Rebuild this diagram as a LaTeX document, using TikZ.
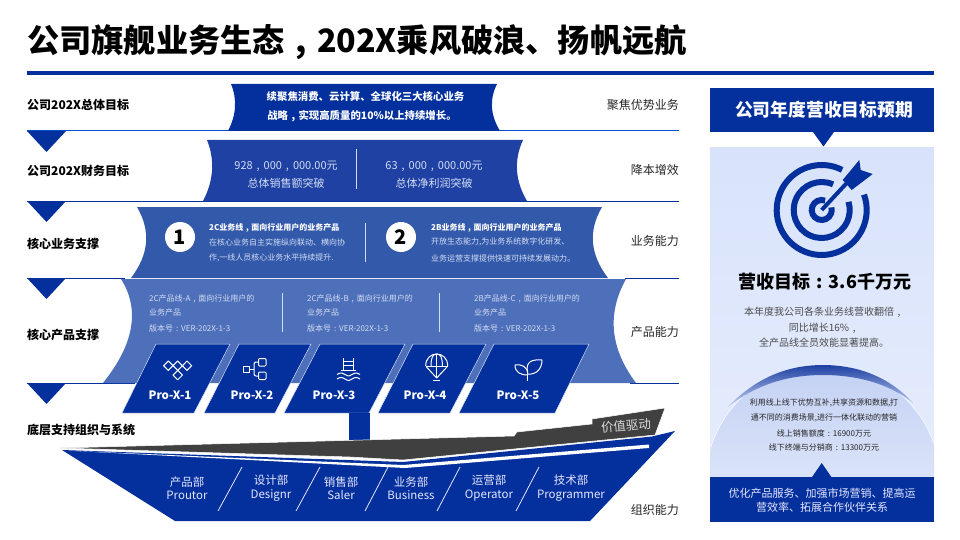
\documentclass[tikz,border=0pt]{standalone}
\usepackage{fontspec}
\setmainfont{Noto Sans CJK SC}
\usepackage{tikz}

\definecolor{deepblue}{HTML}{03309C}
\definecolor{bandtwo}{HTML}{1E41A3}
\definecolor{bandthree}{HTML}{3359AB}
\definecolor{bandfour}{HTML}{4E70BA}
\definecolor{palepanel}{HTML}{D8E3FB}
\definecolor{palelight}{HTML}{E6ECFC}
\definecolor{paletext}{HTML}{D3DDF3}
\definecolor{domeblue}{HTML}{C3D1F3}
\definecolor{domelow}{HTML}{F3F6FE}
\definecolor{wing}{HTML}{404040}

\newcommand{\wcomma}{\makebox[1em]{,}}
\newcommand{\wcolon}{\makebox[1em]{:}}

\tikzset{
  rowlabel/.style={anchor=west, font=\fontsize{12}{14}\selectfont\bfseries, text=black, inner sep=0pt},
  ability/.style={anchor=east, font=\fontsize{12}{14}\selectfont, text=black!85, inner sep=0pt},
  wtext/.style={font=\fontsize{#1}{#1}\selectfont, text=white, inner sep=0pt},
  ptext/.style={anchor=west, font=\fontsize{8}{10}\selectfont, text=paletext, inner sep=0pt},
  prodbox/.style={fill=deepblue, draw=paletext, line width=0.5pt},
  prodlabel/.style={font=\fontsize{11.5}{13}\selectfont\bfseries, text=white, inner sep=0pt},
  icon/.style={draw=white, line width=1pt, line join=round},
  divline/.style={draw=paletext, line width=1pt},
  hullline/.style={draw=white!90!blue, line width=0.8pt},
  rowline/.style={line width=1pt},
  darr/.style={fill=deepblue, draw=none},
  dept/.style={font=\fontsize{11.5}{13.5}\selectfont, text=white!90!blue, inner sep=0pt, align=center},
  dometext/.style={font=\fontsize{8}{10}\selectfont, text=black!85, inner sep=0pt}
}

\begin{document}
\begin{tikzpicture}[x=1pt, y=-1pt]
  \useasboundingbox (0,0) rectangle (960,540);

  \node[anchor=west, inner sep=0pt, font=\fontsize{32.2}{36}\selectfont\bfseries] (title) at (27,42) {公司旗舰业务生态\wcomma 202X乘风破浪、扬帆远航};
  \fill[deepblue] (27,71) rectangle (934,75);

  % Zeilen
  \draw[rowline, draw=blue!60!cyan!80!black] (27,131) -- (679,131);
  \draw[rowline, draw=deepblue] (27,201) -- (679,201);
  \draw[rowline, draw=deepblue] (27,278.5) -- (125,278.5);
  \draw[rowline, draw=deepblue] (625,278.5) -- (679,278.5);
  \draw[rowline, draw=deepblue] (27,383) -- (135,383);
  \draw[rowline, draw=deepblue] (630,383) -- (679,383);

  \fill[deepblue] (231,84) .. controls (237.3,99.3) and (236.3,115) .. (228,131) -- (500,131) .. controls (490.3,115) and (489.3,99.3) .. (497,84) -- cycle;
  \fill[bandtwo] (207,140) .. controls (215,160) and (213.7,180.7) .. (203,201) -- (527,201) .. controls (515,180.7) and (513.7,160) .. (523,140) -- cycle;
  \fill[bandthree] (137,207) .. controls (151,231) and (149,254.3) .. (131,278) -- (608,278) .. controls (590,254.3) and (588,231) .. (602,207) -- cycle;
  \fill[bandfour] (121,279) .. controls (140.3,309.7) and (134,344.3) .. (103,383) -- (636,383) .. controls (610,348.3) and (606.7,313.7) .. (626,279) -- cycle;

  \fill[darr] (27,131) -- (66,131) -- (46.5,152) -- cycle;
  \fill[darr] (27,201) -- (66,201) -- (46.5,222) -- cycle;
  \fill[darr] (27,278) -- (66,278) -- (46.5,299) -- cycle;
  \fill[darr] (27,383) -- (66,383) -- (46.5,404) -- cycle;

  \node[rowlabel] (goalall) at (27,105) {公司202X总体目标};
  \node[rowlabel] (goalfin) at (27,171) {公司202X财务目标};
  \node[rowlabel] (corebiz) at (27,244) {核心业务支撑};
  \node[rowlabel] (coreprod) at (27,335) {核心产品支撑};
  \node[rowlabel] (baseorg) at (27,430) {底层支持组织与系统};

  \node[ability] (abfocus) at (679,105) {聚焦优势业务};
  \node[ability] (abcost) at (679,170) {降本增效};
  \node[ability] (abbiz) at (679,241) {业务能力};
  \node[ability] (abprod) at (679,332) {产品能力};
  \node[ability] (aborg) at (679,510) {组织能力};

  % Band 1 und 2
  \node[wtext=10.4, font=\fontsize{10.4}{12}\selectfont\bfseries] (goalone) at (365.5,97) {续聚焦消费、云计算、全球化三大核心业务};
  \node[wtext=10.4, font=\fontsize{10.4}{12}\selectfont\bfseries] (goaltwo) at (362,116) {战略\wcomma 实现高质量的10\%以上持续增长。};

  \node[wtext=11, text=paletext] (salesnum) at (286,166) {928\wcomma 000\wcomma 000.00元};
  \node[wtext=11, text=paletext] (salestxt) at (286,183) {总体销售额突破};
  \draw[divline] (356,149) -- (356,189);
  \node[wtext=11, text=paletext] (profitnum) at (434,166) {63\wcomma 000\wcomma 000.00元};
  \node[wtext=11, text=paletext] (profittxt) at (434,183) {总体净利润突破};

  % Band 3
  \node[circle, fill=white, minimum size=30pt, inner sep=0pt, font=\fontsize{20}{22}\selectfont\bfseries] (numone) at (180,237) {1};
  \node[circle, fill=white, minimum size=30pt, inner sep=0pt, font=\fontsize{20}{22}\selectfont\bfseries] (numtwo) at (401,237) {2};
  \node[ptext, text=white, font=\fontsize{8}{10}\selectfont\bfseries] (bizaone) at (209,228) {2C业务线\wcomma 面向行业用户的业务产品};
  \node[ptext] (bizatwo) at (209,242) {在核心业务自主实施纵向联动、横向协};
  \node[ptext] (bizathree) at (209,258) {作,一线人员核心业务水平持续提升.};
  \draw[divline] (365,223) -- (365,262);
  \node[ptext, text=white, font=\fontsize{8}{10}\selectfont\bfseries] (bizbone) at (431,228) {2B业务线\wcomma 面向行业用户的业务产品};
  \node[ptext] (bizbtwo) at (431,242) {开放生态能力,为业务系统数字化研发、};
  \node[ptext] (bizbthree) at (431,258) {业务运营支撑提供快速可持续发展动力。};

  % Band 4
  \node[ptext] (lineaone) at (149,299) {2C产品线-A\wcomma 面向行业用户的};
  \node[ptext] (lineatwo) at (149,312.5) {业务产品};
  \node[ptext] (lineathree) at (149,328) {版本号\wcolon VER-202X-1-3};
  \draw[divline] (282,293) -- (282,332);
  \node[ptext] (linebone) at (307,299) {2C产品线-B\wcomma 面向行业用户的};
  \node[ptext] (linebtwo) at (307,312.5) {业务产品};
  \node[ptext] (linebthree) at (307,328) {版本号\wcolon VER-202X-1-3};
  \draw[divline] (439,293) -- (439,332);
  \node[ptext] (linecone) at (474,299) {2B产品线-C\wcomma 面向行业用户的};
  \node[ptext] (linectwo) at (474,312.5) {业务产品};
  \node[ptext] (linecthree) at (474,328) {版本号\wcolon VER-202X-1-3};

  % Pro-X
  \draw[prodbox] (156,344) -- (230,344) -- (194,413) -- (122,413) -- cycle;
  \draw[prodbox] (239,344) -- (311,344) -- (275,413) -- (204,413) -- cycle;
  \draw[prodbox] (320,344) -- (405,344) -- (369,413) -- (284,413) -- cycle;
  \draw[prodbox] (413,344) -- (486,344) -- (450,413) -- (378,413) -- cycle;
  \draw[prodbox] (494,344) -- (589,344) -- (555,413) -- (459,413) -- cycle;
  \node[prodlabel] (proone) at (170,395) {Pro-X-1};
  \node[prodlabel] (protwo) at (252,395) {Pro-X-2};
  \node[prodlabel] (prothree) at (334,395) {Pro-X-3};
  \node[prodlabel] (profour) at (425,395) {Pro-X-4};
  \node[prodlabel] (profive) at (518,395) {Pro-X-5};

  % Icons
  \begin{scope}[icon]
    \draw (168.3,361) -- (173,365.7) -- (168.3,370.4) -- (163.6,365.7) -- cycle;
    \draw (177.7,361) -- (182.4,365.7) -- (177.7,370.4) -- (173,365.7) -- cycle;
    \draw (187,361) -- (191.7,365.7) -- (187,370.4) -- (182.4,365.7) -- cycle;
    \draw (177.7,370.4) -- (182.4,375.1) -- (177.7,379.8) -- (173,375.1) -- cycle;

    \draw (243,366) rectangle +(6,6);
    \draw[rounded corners=1pt] (258.5,358.5) rectangle +(7.5,7.5);
    \draw[rounded corners=1pt] (258.5,372) rectangle +(7.5,7.5);
    \draw (249,369) -- (254,369);
    \draw[rounded corners=2pt] (258.5,362) -- (254,362) -- (254,376) -- (258.5,376);

    \draw (343.3,358) -- (343.3,370);
    \draw (353.3,358) -- (353.3,370);
    \draw (343.3,361) -- (353.3,361);
    \draw (343.3,365.5) -- (353.3,365.5);
    \draw (341,370) -- (356,370);
    \draw (337,374.5) .. controls (340,372.5) and (342,372.5) .. (345,374.5) .. controls (348,376.5) and (350,376.5) .. (352,374.5) .. controls (355,372.5) and (357,372.5) .. (360,374.5);
    \draw (337,379) .. controls (340,377) and (342,377) .. (345,379) .. controls (348,381) and (350,381) .. (352,379) .. controls (355,377) and (357,377) .. (360,379);

    \draw (425.7,366) .. controls (425.7,350) and (447.7,350) .. (447.7,366);
    \draw (425.7,366) -- (447.7,366);
    \draw (431,366) .. controls (431,357) and (433,354) .. (436.7,354) .. controls (440.4,354) and (442.4,357) .. (442.4,366);
    \draw (436.7,354) -- (436.7,378);
    \draw (426.5,367) -- (436.7,378) -- (446.9,367);
    \draw (433,380) -- (440.4,380);

    \draw (527.7,380.5) -- (527.7,372);
    \draw (527.7,375) .. controls (520,375) and (515,372) .. (515,365) .. controls (521,364) and (528,366) .. (527.7,375);
    \draw (527.7,372) .. controls (525,362) and (532,359) .. (542,360) .. controls (542,368) and (537,375) .. (527.7,374);
  \end{scope}

  % Schiff
  \fill[deepblue] (349,413) rectangle (370,440);
  \fill[deepblue] (62,450) -- (175,521) -- (590,521) -- (675,431) -- (652,436.5) -- (403,462) -- cycle;
  \fill[white] (75,451) -- (403,465) -- (649,444.5) -- (649,448) -- (405,468) -- cycle;
  \draw[fill=wing, draw=white, line width=0.5pt] (60,448) -- (514,436) -- (517,432) -- (592,424) -- (592,419) -- (665,408) -- (655,435) -- (403,460) -- (350,457) -- cycle;
  \node[rotate=5, wtext=12.5, text=white!85!black] (valuedrive) at (626,426) {价值驱动};

  \draw[hullline] (242,467) -- (218,511);
  \draw[hullline] (320,467) -- (296,511);
  \draw[hullline] (388,467) -- (365,511);
  \draw[hullline] (460,467) -- (437,511);
  \draw[hullline] (539,467) -- (516,511);
  \node[dept] (deptprod) at (187,488) {产品部\\Proutor};
  \node[dept] (deptdesign) at (271,488) {设计部\\Designr};
  \node[dept] (deptsale) at (341,488) {销售部\\Saler};
  \node[dept] (deptbiz) at (411,488) {业务部\\Business};
  \node[dept] (deptop) at (489,488) {运营部\\Operator};
  \node[dept] (deptpro) at (571,488) {技术部\\Programmer};

  % Rechte Seite
  \shade[top color=palepanel, bottom color=palelight] (710,148) rectangle (934,478);
  \fill[deepblue] (710,88) rectangle (934,132);
  \fill[deepblue] (813,132) -- (834,132) -- (823.5,146.5) -- cycle;
  \node[wtext=17.8, font=\fontsize{17.8}{20}\selectfont\bfseries] (panelhead) at (824,110) {公司年度营收目标预期};

  \begin{scope}[shift={(821.7,210)}, yscale=-1, draw=deepblue, line width=6pt]
    \draw (63:45) arc (63:380:45);
    \draw (66:28) arc (66:377:28);
    \draw (70:10) arc (70:375:10);
    \draw[line width=4pt] (0,0) -- (26,28);
    \fill[deepblue] (21,30) -- (37.6,50) -- (39,40) -- (51,36) -- (30,20) -- cycle;
  \end{scope}

  \node[inner sep=0pt, font=\fontsize{18}{20}\selectfont\bfseries] (revenue) at (825,282) {营收目标\wcolon 3.6千万元};
  \node[inner sep=0pt, text=black!70, font=\fontsize{10}{12}\selectfont] (paraone) at (824,312) {本年度我公司各条业务线营收翻倍\wcomma};
  \node[inner sep=0pt, text=black!70, font=\fontsize{10}{12}\selectfont] (paratwo) at (824,328) {同比增长16\%\wcomma};
  \node[inner sep=0pt, text=black!70, font=\fontsize{10}{12}\selectfont] (parathree) at (824,343) {全产品线全员效能显著提高。};

  % Kuppel
  \begin{scope}
    \clip (710,148) rectangle (934,478);
    \shade[top color=domeblue, bottom color=domelow, draw=white, line width=0.5pt] (823,482.6) circle (117.6);
    \shade[top color=bandtwo, bottom color=domeblue, draw=none] (728,407) .. controls (760,373) and (795,365) .. (823,365) .. controls (851,365) and (886,373) .. (913,403) .. controls (886,381) and (851,375) .. (823,375) .. controls (795,375) and (760,381) .. (728,407) -- cycle;
  \end{scope}
  \node[dometext] (domeone) at (824,403) {利用线上线下优势互补,共享资源和数据,打};
  \node[dometext] (dometwo) at (824,417.5) {通不同的消费场景,进行一体化联动的营销};
  \node[dometext] (domethree) at (824,433) {线上销售额度\wcolon 16900万元};
  \node[dometext] (domefour) at (824,447) {线下终端与分销商\wcolon 13300万元};

  \fill[deepblue] (811.7,477.5) -- (831.7,477.5) -- (821.7,463) -- cycle;
  \fill[deepblue] (710,477) rectangle (934,522);
  \node[wtext=11, text=white!90!blue] (bottomone) at (822,493) {优化产品服务、加强市场营销、提高运};
  \node[wtext=11, text=white!90!blue] (bottomtwo) at (822,507) {营效率、拓展合作伙伴关系};

\end{tikzpicture}
\end{document}
